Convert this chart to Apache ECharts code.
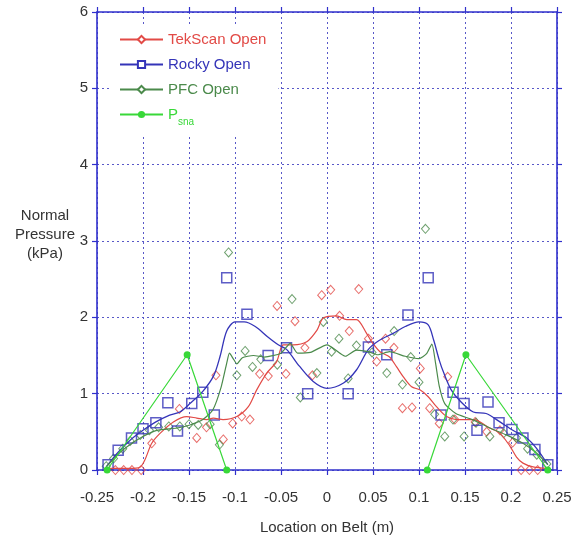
<!DOCTYPE html>
<html>
<head>
<meta charset="utf-8">
<script src="https://cdn.jsdelivr.net/npm/echarts@6/dist/echarts.min.js"></script>
<style>
  html, body { margin: 0; padding: 0; background: #fff; }
  #chart { width: 575px; height: 543px; }
</style>
</head>
<body>
<div id="chart"></div>
<script>
// Measured pressures, [location (m), pressure (kPa)]
const tekScanPoints = [
  [-0.230, 0], [-0.221, 0], [-0.212, 0], [-0.202, 0], [-0.1905, 0.35], [-0.1605, 0.80],
  [-0.1416, 0.42], [-0.131, 0.56], [-0.1207, 1.24], [-0.1127, 0.40], [-0.1025, 0.61],
  [-0.0927, 0.70], [-0.0837, 0.66], [-0.0732, 1.26], [-0.0638, 1.23], [-0.0543, 2.15],
  [-0.0446, 1.26], [-0.0348, 1.95], [-0.024, 1.60], [-0.0158, 1.24], [-0.0058, 2.29],
  [0.004, 2.36], [0.0137, 2.02], [0.0242, 1.82], [0.0345, 2.37], [0.045, 1.72],
  [0.054, 1.42], [0.0636, 1.72], [0.0728, 1.60], [0.082, 0.81], [0.0924, 0.82],
  [0.1014, 1.33], [0.1116, 0.81], [0.122, 0.61], [0.1312, 1.22], [0.139, 0.66],
  [0.161, 0.63], [0.1736, 0.50], [0.188, 0.52], [0.2018, 0.36], [0.211, 0], [0.220, 0], [0.229, 0]
];
const tekScanCurve = [
  [-0.240, 0.02], [-0.215, 0.02], [-0.203, 0.04], [-0.198, 0.13], [-0.1905, 0.35], [-0.1815, 0.48],
  [-0.167, 0.63], [-0.1525, 0.70], [-0.1416, 0.68], [-0.1308, 0.66], [-0.1236, 0.68],
  [-0.113, 0.66], [-0.098, 0.70], [-0.0855, 0.83], [-0.0764, 1.05], [-0.0655, 1.27],
  [-0.0547, 1.42], [-0.0475, 1.64], [-0.0366, 1.64], [-0.022, 1.68], [-0.011, 1.83],
  [-0.004, 1.99], [0.0105, 2.02], [0.0214, 1.97], [0.032, 1.97], [0.043, 1.79],
  [0.0486, 1.68], [0.0576, 1.55], [0.068, 1.48], [0.0757, 1.35], [0.083, 1.22],
  [0.092, 1.09], [0.101, 1.05], [0.110, 0.96], [0.119, 0.83], [0.130, 0.70],
  [0.141, 0.66], [0.159, 0.66], [0.177, 0.55], [0.188, 0.48], [0.199, 0.31],
  [0.206, 0.17], [0.213, 0.09], [0.224, 0.04], [0.239, 0.02]
];

const rockyPoints = [
  [-0.238, 0.07], [-0.227, 0.26], [-0.2125, 0.42], [-0.200, 0.54], [-0.186, 0.62],
  [-0.173, 0.88], [-0.1625, 0.51], [-0.147, 0.87], [-0.135, 1.02], [-0.1225, 0.72],
  [-0.109, 2.52], [-0.087, 2.04], [-0.064, 1.50], [-0.044, 1.60], [-0.021, 1.00],
  [0.023, 1.00], [0.045, 1.61], [0.065, 1.51], [0.088, 2.03], [0.110, 2.52],
  [0.124, 0.72], [0.137, 1.02], [0.149, 0.87], [0.163, 0.52], [0.175, 0.89],
  [0.187, 0.62], [0.201, 0.53], [0.213, 0.42], [0.226, 0.27], [0.240, 0.07]
];
const rockyCurve = [
  [-0.240, 0.04], [-0.228, 0.22], [-0.214, 0.39], [-0.200, 0.52], [-0.186, 0.63],
  [-0.171, 0.72], [-0.160, 0.76], [-0.149, 0.87], [-0.135, 1.03], [-0.123, 1.24],
  [-0.116, 1.50], [-0.109, 1.82], [-0.100, 1.94], [-0.090, 1.94], [-0.078, 1.88],
  [-0.065, 1.75], [-0.053, 1.64], [-0.044, 1.58], [-0.030, 1.36], [-0.015, 1.16],
  [0.000, 1.07], [0.018, 1.14], [0.032, 1.31], [0.045, 1.58], [0.057, 1.70],
  [0.072, 1.79], [0.085, 1.88], [0.100, 1.94], [0.110, 1.90], [0.116, 1.70],
  [0.122, 1.44], [0.127, 1.27], [0.135, 1.05], [0.145, 0.90], [0.159, 0.76],
  [0.173, 0.74], [0.188, 0.63], [0.202, 0.52], [0.217, 0.42], [0.228, 0.28], [0.240, 0.07]
];

const pfcPoints = [
  [-0.240, 0.05], [-0.232, 0.15], [-0.222, 0.28], [-0.214, 0.38], [-0.203, 0.46],
  [-0.193, 0.52], [-0.183, 0.56], [-0.172, 0.57], [-0.160, 0.57], [-0.150, 0.60],
  [-0.140, 0.59], [-0.127, 0.60], [-0.117, 0.33], [-0.107, 2.85], [-0.098, 1.24],
  [-0.089, 1.56], [-0.081, 1.35], [-0.072, 1.45], [-0.054, 1.38], [-0.038, 2.24],
  [-0.029, 0.95], [-0.011, 1.27], [-0.004, 1.94], [0.005, 1.55], [0.013, 1.72],
  [0.023, 1.20], [0.032, 1.63], [0.049, 1.54], [0.065, 1.27], [0.073, 1.82],
  [0.082, 1.12], [0.091, 1.48], [0.100, 1.15], [0.107, 3.16], [0.117, 0.73],
  [0.128, 0.44], [0.137, 0.66], [0.149, 0.44], [0.162, 0.62], [0.177, 0.44],
  [0.192, 0.48], [0.206, 0.42], [0.218, 0.28], [0.228, 0.20], [0.239, 0.08]
];
const pfcCurve = [
  [-0.240, 0.04], [-0.226, 0.22], [-0.212, 0.35], [-0.200, 0.44], [-0.185, 0.52],
  [-0.163, 0.55], [-0.149, 0.59], [-0.135, 0.66], [-0.124, 0.79], [-0.115, 1.09],
  [-0.109, 1.40], [-0.106, 1.53], [-0.102, 1.46], [-0.098, 1.39], [-0.092, 1.47],
  [-0.080, 1.50], [-0.068, 1.48], [-0.050, 1.53], [-0.040, 1.66], [-0.032, 1.53],
  [-0.018, 1.54], [0.000, 1.64], [0.020, 1.49], [0.032, 1.57], [0.045, 1.55],
  [0.055, 1.51], [0.068, 1.55], [0.085, 1.49], [0.100, 1.46], [0.108, 1.52],
  [0.114, 1.65], [0.118, 1.40], [0.122, 1.10], [0.128, 0.87], [0.140, 0.74],
  [0.158, 0.66], [0.177, 0.55], [0.195, 0.46], [0.213, 0.35], [0.228, 0.22], [0.240, 0.07]
];

// Two triangular load profiles; the '-' entry breaks the line between them
const psnaProfile = [
  [-0.239, 0], [-0.152, 1.51], [-0.109, 0], [0, '-'], [0.109, 0], [0.151, 1.51], [0.240, 0]
];

const xTicks = { min: -0.25, max: 0.25, step: 0.05 };
const yTicks = { min: 0, max: 6, step: 1 };

const RED = '#e24a46', BLUE = '#3434b8', DKGREEN = '#4b8a4b', GREEN = '#38d838';
const AXIS = '#3030cc', GRIDC = '#5858c8', TXT = '#333333';
const FONT = '"Liberation Sans", Arial, sans-serif';

const frameTick = { show: true, inside: false, length: 5, lineStyle: { color: AXIS, width: 1.2 } };
const frameLine = { show: true, onZero: false, lineStyle: { color: AXIS, width: 1.6 } };

const chart = echarts.init(document.getElementById('chart'), null, { renderer: 'canvas' });
chart.setOption({
  backgroundColor: '#fff',
  animation: false,
  grid: { left: 97, right: 18, top: 12, bottom: 73 },
  legend: {
    orient: 'vertical', left: 112, top: 27,
    padding: [5, 12, 8, 7],
    backgroundColor: '#ffffff',
    itemWidth: 43, itemHeight: 9, itemGap: 10,
    textStyle: { fontFamily: FONT, fontSize: 15 },
    data: [
      { name: 'TekScan Open', textStyle: { color: RED } },
      { name: 'Rocky Open', textStyle: { color: BLUE } },
      { name: 'PFC Open', textStyle: { color: DKGREEN } },
      { name: 'Psna', textStyle: { color: GREEN } }
    ],
    formatter: name => name === 'Psna' ? '{p|P}{s|sna}' : name,
    selectedMode: false,
    z: 5
  },
  xAxis: [{
    type: 'value', position: 'bottom',
    min: xTicks.min, max: xTicks.max, interval: xTicks.step,
    axisLine: frameLine, axisTick: frameTick,
    axisLabel: { color: TXT, fontFamily: FONT, fontSize: 15, margin: 20,
      formatter: v => String(+v.toFixed(2)) },
    splitLine: { show: true, lineStyle: { color: GRIDC, type: [2, 3], width: 1 } },
    name: 'Location on Belt (m)', nameLocation: 'middle', nameGap: 50,
    nameTextStyle: { color: TXT, fontFamily: FONT, fontSize: 15 }
  }, {
    type: 'value', position: 'top',
    min: xTicks.min, max: xTicks.max, interval: xTicks.step,
    axisLine: frameLine, axisTick: frameTick,
    axisLabel: { show: false }, splitLine: { show: false }
  }],
  yAxis: [{
    type: 'value', position: 'left',
    min: yTicks.min, max: yTicks.max, interval: yTicks.step,
    axisLine: frameLine, axisTick: frameTick,
    axisLabel: { color: TXT, fontFamily: FONT, fontSize: 15, margin: 9 },
    splitLine: { show: true, lineStyle: { color: GRIDC, type: [2, 3], width: 1 } }
  }, {
    type: 'value', position: 'right',
    min: yTicks.min, max: yTicks.max, interval: yTicks.step,
    axisLine: frameLine, axisTick: frameTick,
    axisLabel: { show: false }, splitLine: { show: false }
  }],
  graphic: [{
    type: 'text', x: 45, y: 235,
    style: {
      text: 'Normal\nPressure\n(kPa)', align: 'center', verticalAlign: 'middle',
      fontFamily: FONT, fontSize: 15, lineHeight: 19, fill: TXT
    }
  }],
  series: [
    // fitted curves first: they own the legend icons (line + marker)
    { name: 'TekScan Open', type: 'line', smooth: 0.3, data: tekScanCurve,
      symbol: 'emptyDiamond', showSymbol: false, color: RED,
      lineStyle: { color: RED, width: 1.2 } },
    { name: 'Rocky Open', type: 'line', smooth: 0.3, data: rockyCurve,
      symbol: 'emptyRect', showSymbol: false, color: BLUE,
      lineStyle: { color: BLUE, width: 1.3 } },
    { name: 'PFC Open', type: 'line', smooth: 0.2, data: pfcCurve,
      symbol: 'emptyDiamond', showSymbol: false, color: DKGREEN,
      lineStyle: { color: DKGREEN, width: 1.2 } },
    { name: 'Psna', type: 'line', data: psnaProfile, connectNulls: false,
      symbol: 'circle', symbolSize: 7, color: GREEN,
      lineStyle: { color: GREEN, width: 1.2 }, itemStyle: { color: GREEN } },
    { name: 'TekScan Open', type: 'scatter', data: tekScanPoints,
      symbol: 'diamond', symbolSize: [8, 9],
      itemStyle: { color: 'rgba(0,0,0,0)', borderColor: RED, borderWidth: 1 } },
    { name: 'PFC Open', type: 'scatter', data: pfcPoints,
      symbol: 'diamond', symbolSize: [8, 9],
      itemStyle: { color: 'rgba(0,0,0,0)', borderColor: DKGREEN, borderWidth: 1 } },
    { name: 'Rocky Open', type: 'scatter', data: rockyPoints,
      symbol: 'rect', symbolSize: 10,
      itemStyle: { color: 'rgba(0,0,0,0)', borderColor: BLUE, borderWidth: 1.5 } }
  ]
});
// subscript styling for the P_sna legend entry
chart.setOption({
  legend: {
    textStyle: {
      rich: {
        p: { fontFamily: FONT, fontSize: 15, color: GREEN },
        s: { fontFamily: FONT, fontSize: 10, color: GREEN, padding: [16, 0, 0, 0] }
      }
    }
  }
});
</script>
</body>
</html>
